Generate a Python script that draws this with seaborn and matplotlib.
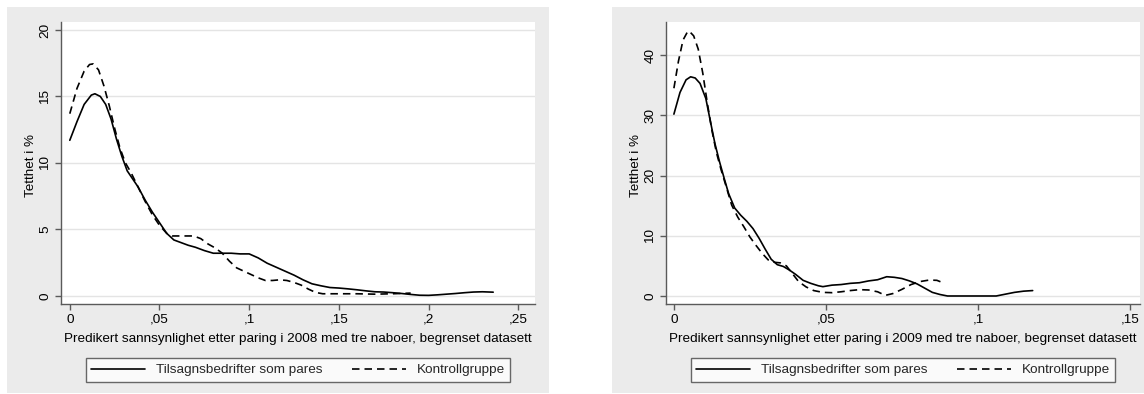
import numpy as np
import pandas as pd
import matplotlib
matplotlib.use("Agg")
import matplotlib.pyplot as plt
from matplotlib.lines import Line2D
from matplotlib.patches import Rectangle
import seaborn as sns

# ---------------- data ----------------
x_treat_2008 = [0, 0.004, 0.008, 0.012, 0.014, 0.017, 0.02, 0.023, 0.026, 0.029, 0.032, 0.035,
                0.038, 0.042, 0.046, 0.05, 0.054, 0.058, 0.062, 0.066, 0.07, 0.075, 0.08, 0.085,
                0.09, 0.095, 0.1, 0.105, 0.11, 0.115, 0.12, 0.125, 0.13, 0.135, 0.14, 0.145, 0.15,
                0.155, 0.16, 0.165, 0.17, 0.175, 0.18, 0.185, 0.19, 0.195, 0.2, 0.205, 0.21, 0.215,
                0.22, 0.225, 0.23, 0.236]
y_treat_2008 = [11.7, 13.1, 14.4, 15.1, 15.2, 15.0, 14.4, 13.3, 11.8, 10.5, 9.4, 8.8,
                8.2, 7.2, 6.3, 5.5, 4.7, 4.2, 4.0, 3.8, 3.65, 3.4, 3.2, 3.2,
                3.2, 3.15, 3.15, 2.85, 2.45, 2.15, 1.85, 1.55, 1.2, 0.9, 0.75, 0.62, 0.58,
                0.52, 0.45, 0.37, 0.3, 0.28, 0.23, 0.17, 0.1, 0.04, 0.03, 0.07, 0.12, 0.17,
                0.23, 0.28, 0.3, 0.27]

x_ctrl_2008 = [0, 0.004, 0.008, 0.011, 0.013, 0.016, 0.019, 0.022, 0.025, 0.028, 0.031, 0.034,
               0.038, 0.042, 0.046, 0.05, 0.054, 0.057, 0.061, 0.065, 0.069, 0.073, 0.077, 0.081,
               0.085, 0.089, 0.093, 0.097, 0.101, 0.105, 0.109, 0.113, 0.117, 0.121, 0.125, 0.129,
               0.133, 0.137, 0.141, 0.15, 0.16, 0.17, 0.18, 0.19]
y_ctrl_2008 = [13.7, 15.6, 16.9, 17.4, 17.45, 17.0, 15.8, 14.3, 12.6, 11.1, 10.0, 9.3,
               8.2, 7.1, 6.1, 5.3, 4.7, 4.5, 4.5, 4.5, 4.5, 4.3, 3.9, 3.6,
               3.2, 2.6, 2.1, 1.85, 1.6, 1.35, 1.15, 1.15, 1.2, 1.15, 1.0, 0.8,
               0.5, 0.25, 0.15, 0.15, 0.15, 0.12, 0.15, 0.2]

x_treat_2009 = [0, 0.002, 0.004, 0.0055, 0.007, 0.0086, 0.0105, 0.012, 0.0135, 0.015, 0.0165,
                0.018, 0.02, 0.022, 0.024, 0.026, 0.028, 0.03, 0.032, 0.034, 0.036, 0.038, 0.04,
                0.0425, 0.045, 0.0475, 0.049, 0.052, 0.055, 0.058, 0.061, 0.064, 0.067, 0.07,
                0.0725, 0.075, 0.0775, 0.08, 0.0825, 0.085, 0.0875, 0.09, 0.095, 0.1, 0.106,
                0.109, 0.112, 0.115, 0.118]
y_treat_2009 = [30.2, 33.8, 35.9, 36.4, 36.2, 35.3, 32.8, 29.0, 25.3, 22.3, 19.6,
                17.0, 14.6, 13.4, 12.4, 11.2, 9.6, 7.8, 6.1, 5.2, 4.9, 4.3, 3.6,
                2.6, 2.1, 1.7, 1.55, 1.8, 1.9, 2.1, 2.2, 2.5, 2.7, 3.2,
                3.1, 2.9, 2.5, 2.0, 1.3, 0.6, 0.25, 0.0, 0.0, 0.0, 0.0,
                0.3, 0.6, 0.8, 0.9]

x_ctrl_2009 = [0, 0.0015, 0.003, 0.0045, 0.005, 0.0065, 0.008, 0.0095, 0.011, 0.0125, 0.014,
               0.0155, 0.017, 0.019, 0.021, 0.023, 0.025, 0.027, 0.029, 0.031, 0.033, 0.035,
               0.037, 0.039, 0.041, 0.0435, 0.046, 0.049, 0.052, 0.055, 0.058, 0.061, 0.064,
               0.067, 0.0695, 0.072, 0.075, 0.078, 0.081, 0.084, 0.0865, 0.089]
y_ctrl_2009 = [34.5, 39.0, 42.5, 43.9, 44.0, 43.2, 41.0, 37.0, 32.0, 27.5, 23.8,
               21.0, 18.5, 15.1, 13.1, 11.5, 9.8, 8.4, 7.1, 6.0, 5.6, 5.5,
               5.0, 3.7, 2.4, 1.5, 0.9, 0.6, 0.55, 0.7, 0.9, 1.05, 1.0,
               0.7, 0.1, 0.4, 1.1, 1.9, 2.4, 2.65, 2.6, 2.1]

xticks_2008 = [0, 0.05, 0.1, 0.15, 0.2, 0.25]
xticklabels_2008 = ["0", ",05", ",1", ",15", ",2", ",25"]
yticks_2008 = [0, 5, 10, 15, 20]
xticks_2009 = [0, 0.05, 0.1, 0.15]
xticklabels_2009 = ["0", ",05", ",1", ",15"]
yticks_2009 = [0, 10, 20, 30, 40]

xlabel_2008 = "Predikert sannsynlighet etter paring i 2008 med tre naboer, begrenset datasett"
xlabel_2009 = "Predikert sannsynlighet etter paring i 2009 med tre naboer, begrenset datasett"
ylabel = "Tetthet i %"
legend_labels = ["Tilsagnsbedrifter som pares", "Kontrollgruppe"]

# ---------------- style ----------------
sns.set_theme(style="white")
plt.rcParams['font.family'] = ['Liberation Sans', 'DejaVu Sans']

W, H = 1144, 394
fig = plt.figure(figsize=(W / 100, H / 100), dpi=100, facecolor="white")

GRAY = "#EBEBEB"
AXC = "#5a5a5a"
FS = 9.7
DASH = (0, (4.5, 3))


def fx(px):
    return px / W


def fy(py):
    return 1 - py / H


# background panels
fig.patches.append(Rectangle((fx(7), fy(393)), fx(549 - 7), (393 - 7) / H,
                             transform=fig.transFigure, facecolor=GRAY, edgecolor="none", zorder=0))
fig.patches.append(Rectangle((fx(612), fy(393)), fx(1160 - 612), (393 - 7) / H,
                             transform=fig.transFigure, facecolor=GRAY, edgecolor="none", zorder=0))

panels = [
    dict(left=61, xs=(x_treat_2008, x_ctrl_2008), ys=(y_treat_2008, y_ctrl_2008),
         xlim=(-0.0049, 0.2593), ylim=(-0.62, 20.6), xt=xticks_2008, xtl=xticklabels_2008,
         yt=yticks_2008, xlabel=xlabel_2008),
    dict(left=666, xs=(x_treat_2009, x_ctrl_2009), ys=(y_treat_2009, y_ctrl_2009),
         xlim=(-0.0026, 0.1533), ylim=(-1.33, 45.5), xt=xticks_2009, xtl=xticklabels_2009,
         yt=yticks_2009, xlabel=xlabel_2009),
]

for p in panels:
    ax = fig.add_axes([fx(p["left"]), fy(304), fx(474), (304 - 22) / H])
    ax.set_facecolor("white")
    ax.set_zorder(1)
    df_t = pd.DataFrame({"x": p["xs"][0], "y": p["ys"][0]})
    df_c = pd.DataFrame({"x": p["xs"][1], "y": p["ys"][1]})
    sns.lineplot(data=df_t, x="x", y="y", ax=ax, color="black", lw=1.2,
                 sort=False, estimator=None, zorder=3)
    sns.lineplot(data=df_c, x="x", y="y", ax=ax, color="black", lw=1.2,
                 linestyle=DASH, sort=False, estimator=None, zorder=3)
    ax.set_xlim(*p["xlim"])
    ax.set_ylim(*p["ylim"])
    ax.set_xticks(p["xt"])
    ax.set_xticklabels(p["xtl"])
    ax.set_yticks(p["yt"])
    ax.set_yticklabels([str(v) for v in p["yt"]])
    ax.grid(axis="y", color="#E4E4E4", lw=1.0)
    ax.grid(axis="x", visible=False)
    ax.set_axisbelow(True)
    for s in ["top", "right"]:
        ax.spines[s].set_visible(False)
    for s in ["left", "bottom"]:
        ax.spines[s].set_color(AXC)
        ax.spines[s].set_linewidth(1.0)
    ax.tick_params(axis="both", which="major", direction="out", length=4.5, width=1.0,
                   color=AXC, labelsize=FS, labelcolor="black", pad=2.5, left=True, bottom=True)
    ax.tick_params(axis="y", labelrotation=90)
    for lab in ax.get_yticklabels():
        lab.set_rotation_mode("anchor")
        lab.set_ha("center")
        lab.set_va("bottom")
    ax.set_xlabel(p["xlabel"], fontsize=FS, color="black", labelpad=5)
    ax.set_ylabel(ylabel, fontsize=FS, color="black")
    ax.yaxis.set_label_coords(-0.051, 0.49)

    handles = [Line2D([], [], color="black", lw=1.2),
               Line2D([], [], color="black", lw=1.2, linestyle=DASH)]
    cx = (p["left"] + 474 / 2)
    leg = fig.legend(handles, legend_labels, ncol=2, loc="center",
                     bbox_to_anchor=(fx(cx), fy(370)), fontsize=FS, frameon=True,
                     fancybox=False, handlelength=4.0, handletextpad=0.8,
                     columnspacing=2.2, borderpad=0.4)
    leg.get_frame().set_edgecolor("#444444")
    leg.get_frame().set_linewidth(1.0)
    leg.get_frame().set_facecolor("white")

fig.savefig("out.png", dpi=100, facecolor="white")
